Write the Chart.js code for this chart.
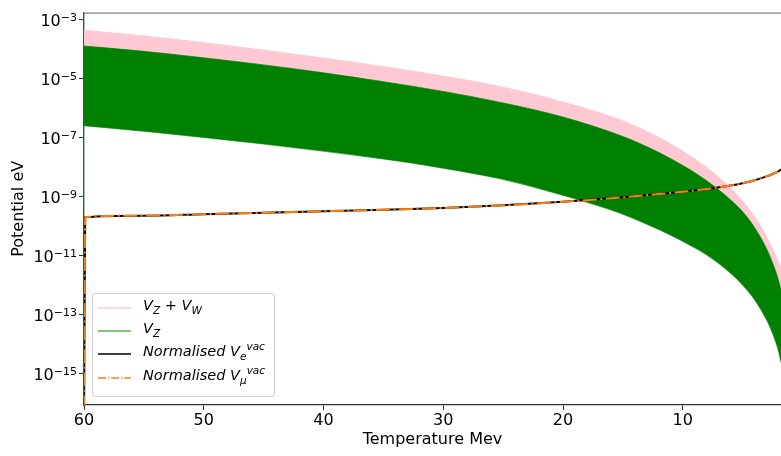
<!DOCTYPE html>
<html>
<head>
<meta charset="utf-8">
<script src="https://cdn.jsdelivr.net/npm/chart.js@4"></script>
<style>
  body { margin: 0; background: #fff; }
  #wrap { position: relative; width: 781px; height: 456px; }
  #legend {
    position: absolute; left: 92px; top: 293px; width: 181px; height: 102px;
    border: 1px solid #d0d0d0; border-radius: 3px; background: rgba(255,255,255,0.85);
    font-family: "DejaVu Sans", sans-serif; font-style: italic; font-size: 14.5px; color: #000;
  }
  .row { position: absolute; left: 0; height: 22px; width: 100%; }
  .row svg { position: absolute; left: 5px; top: 5px; }
  .row span { position: absolute; left: 50px; top: 0px; white-space: nowrap; }
  sub, sup { font-size: 10.5px; line-height: 0; }
</style>
</head>
<body>
<div id="wrap">
  <canvas id="myChart" width="781" height="456"></canvas>
  <div id="legend"></div>
</div>
<script>
// temperature (MeV)
const temps = [60, 59.9, 55, 50, 45, 40, 35, 30, 25, 20, 15, 12, 10, 8, 6, 5, 4, 3, 2.5, 2, 1.8];

// log10 of the potential (eV), null = no point there
const pinkTopExp = [-3.38, null, -3.57, -3.80, -4.05, -4.32, -4.61, -4.93, -5.31, -5.81, -6.45, -7.01, -7.48, -8.03, -8.73, -9.17, -9.70, -10.38, -10.80, -11.24, -11.46];
const greenTopExp = [-3.91, null, -4.09, -4.31, -4.55, -4.82, -5.12, -5.45, -5.84, -6.32, -6.98, -7.52, -7.96, -8.48, -9.13, -9.53, -10.07, -10.79, -11.27, -11.87, -12.20];
const greenBottomExp = [-6.61, null, -6.80, -7.01, -7.23, -7.47, -7.74, -8.05, -8.43, -8.97, -9.61, -10.13, -10.53, -10.99, -11.61, -12.01, -12.51, -13.19, -13.65, -14.25, -14.63];
const normEExp = [-17, -9.71, -9.66, -9.61, -9.56, -9.51, -9.46, -9.40, -9.31, -9.19, -9.04, -8.93, -8.85, -8.76, -8.64, -8.56, -8.46, -8.33, -8.25, -8.15, -8.09];
const normMuExp = [-17, -9.71, -9.66, -9.61, -9.56, -9.51, -9.46, -9.40, -9.31, -9.19, -9.04, -8.93, -8.85, -8.76, -8.64, -8.56, -8.46, -8.33, -8.25, -8.15, -8.09];

const xTicks = [60, 50, 40, 30, 20, 10];
const yTickExp = [-3, -5, -7, -9, -11, -13, -15];

function pts(exps) {
  return temps.map((t, i) => ({ x: t, y: exps[i] === null ? null : Math.pow(10, exps[i]) }));
}

const ctx = document.getElementById('myChart');
const font = { family: 'DejaVu Sans', size: 16 };

// top spine + mathtext-like y tick labels (10 with raised exponent)
const framePlugin = {
  id: 'frame',
  afterDraw(chart) {
    const a = chart.chartArea, c = chart.ctx;
    c.save();
    c.strokeStyle = '#808080';
    c.lineWidth = 1.2;
    c.beginPath();
    c.moveTo(a.left, a.top + 0.5);
    c.lineTo(a.right, a.top + 0.5);
    c.stroke();

    const ys = chart.scales.y;
    c.fillStyle = '#000';
    c.textBaseline = 'alphabetic';
    c.textAlign = 'left';
    yTickExp.forEach(e => {
      const py = ys.getPixelForValue(Math.pow(10, e));
      const ex = '\u2212' + String(-e);
      c.font = '11px "DejaVu Sans"';
      const we = c.measureText(ex).width;
      c.font = '16px "DejaVu Sans"';
      const wb = c.measureText('10').width;
      const right = a.left - 7;
      c.fillText('10', right - we - wb, py + 7);
      c.font = '11px "DejaVu Sans"';
      c.fillText(ex, right - we, py + 2);
    });
    c.restore();
  }
};

new Chart(ctx, {
  type: 'line',
  data: {
    datasets: [
      { label: 'mu', data: pts(normMuExp), borderColor: '#ff7f0e', borderWidth: 2,
        borderDash: [14, 3.5, 2, 3.5], fill: false },
      { label: 'e', data: pts(normEExp), borderColor: '#000000', borderWidth: 2, fill: false },
      { label: 'VZ top', data: pts(greenTopExp), borderColor: 'rgba(0,128,0,0.75)', borderWidth: 1,
        backgroundColor: 'rgb(0,128,0)', fill: '+1' },
      { label: 'VZ bottom', data: pts(greenBottomExp), borderColor: 'rgba(70,165,70,0.9)', borderWidth: 1.2, fill: false },
      { label: 'VZ+VW', data: pts(pinkTopExp), borderColor: '#ffc8d2', borderWidth: 1,
        backgroundColor: '#ffc8d2', fill: 2 }
    ]
  },
  options: {
    responsive: false,
    animation: false,
    spanGaps: true,
    layout: { padding: { top: 6, left: 0, right: 0, bottom: 0 } },
    elements: { point: { radius: 0 }, line: { cubicInterpolationMode: 'monotone' } },
    plugins: { legend: { display: false }, tooltip: { enabled: false } },
    scales: {
      x: {
        type: 'linear', reverse: true, min: 1.8, max: 60,
        afterBuildTicks: s => { s.ticks = xTicks.map(v => ({ value: v })); },
        afterFit: s => { s.height = 51; },
        ticks: { font: font, color: '#000', padding: 1, maxRotation: 0 },
        grid: { drawOnChartArea: false, drawTicks: true, tickLength: 5, color: '#333' },
        border: { color: '#333', width: 1.2 },
        title: { display: true, text: 'Temperature Mev', font: font, color: '#000', padding: { top: 0, bottom: 7 } }
      },
      y: {
        type: 'logarithmic', min: Math.pow(10, -16.08), max: Math.pow(10, -2.777),
        afterBuildTicks: s => { s.ticks = yTickExp.map(e => ({ value: Math.pow(10, e) })); },
        afterFit: s => { s.width = 84; },
        ticks: { font: font, color: '#000', padding: 3, callback: () => '' },
        grid: { drawOnChartArea: false, drawTicks: true, tickLength: 5, color: '#333' },
        border: { color: '#2f5f2f', width: 1.4 },
        title: { display: true, text: 'Potential eV', font: font, color: '#000', padding: { top: 9, bottom: 0 } }
      }
    }
  },
  plugins: [framePlugin]
});

// legend
const legendItems = [
  { html: 'V<sub>Z</sub> + V<sub>W</sub>', color: '#ffc8d2', dash: '' },
  { html: 'V<sub>Z</sub>', color: 'rgba(0,128,0,0.65)', dash: '' },
  { html: 'Normalised V<sub>e</sub><sup>vac</sup>', color: '#000', dash: '' },
  { html: 'Normalised V<sub>\u03BC</sub><sup>vac</sup>', color: '#ff7f0e', dash: '8,2,1.2,2' }
];
const rowTops = [3, 26, 49, 73];
const leg = document.getElementById('legend');
legendItems.forEach((it, i) => {
  const row = document.createElement('div');
  row.className = 'row';
  row.style.top = rowTops[i] + 'px';
  row.innerHTML = '<svg width="34" height="12"><line x1="0" y1="6" x2="33" y2="6" stroke="' + it.color +
    '" stroke-width="1.6"' + (it.dash ? ' stroke-dasharray="' + it.dash + '"' : '') + '/></svg>' +
    '<span>' + it.html + '</span>';
  leg.appendChild(row);
});
</script>
</body>
</html>
